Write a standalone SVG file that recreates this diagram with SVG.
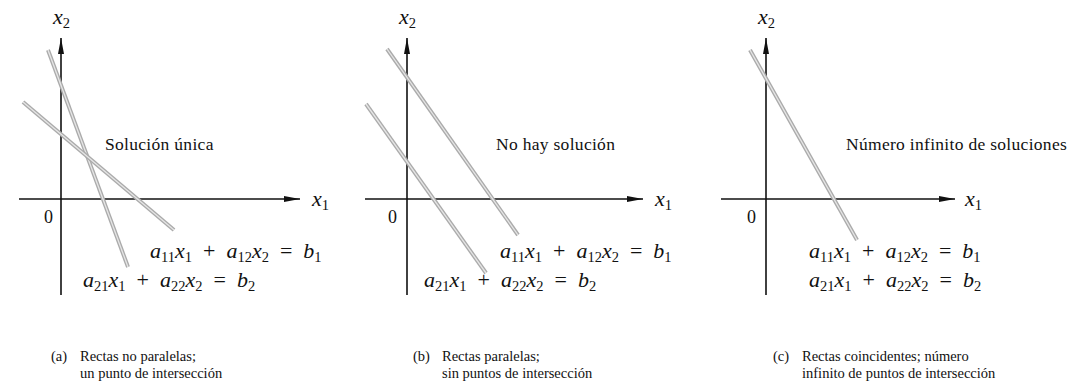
<svg xmlns="http://www.w3.org/2000/svg" width="1078" height="387" viewBox="0 0 1078 387">
<style>
.ax{stroke:#111;stroke-width:1.6;fill:none}
.ln{stroke:#ababab;stroke-width:4;fill:none;stroke-linecap:butt}
.lnc{stroke:#e6e6e6;stroke-width:1.3;fill:none}
.it{font-family:"Liberation Serif","Times New Roman",serif;font-style:italic;font-size:22px;fill:#111}
.sub{font-size:14.5px;font-style:normal}
.rm{font-family:"Liberation Serif","Times New Roman",serif;font-size:17.5px;fill:#111;letter-spacing:0.3px}
.cap{font-family:"Liberation Serif","Times New Roman",serif;font-size:14.5px;fill:#111}
.zero{font-family:"Liberation Serif","Times New Roman",serif;font-size:18px;fill:#111}
</style>
<defs>
<marker id="ah" viewBox="0 0 16 8" refX="16" refY="4" markerWidth="16" markerHeight="8" markerUnits="userSpaceOnUse" orient="auto">
<path d="M0,1 L16,4 L0,7 Z" fill="#111"/>
</marker>
</defs>

<g id="connectors">
<line class="ax" x1="61" y1="295" x2="61" y2="38" marker-end="url(#ah)"/>
<line class="ax" x1="19" y1="199" x2="300" y2="199" marker-end="url(#ah)"/>
<line class="ax" x1="407" y1="295" x2="407" y2="38" marker-end="url(#ah)"/>
<line class="ax" x1="365" y1="199" x2="643" y2="199" marker-end="url(#ah)"/>
<line class="ax" x1="766" y1="295" x2="766" y2="38" marker-end="url(#ah)"/>
<line class="ax" x1="721" y1="199" x2="955" y2="199" marker-end="url(#ah)"/>
</g>

<g id="panel-a">
<line class="ln" x1="48" y1="50" x2="128" y2="267"/><line class="lnc" x1="48" y1="50" x2="128" y2="267"/>
<line class="ln" x1="23" y1="102" x2="174" y2="230"/><line class="lnc" x1="23" y1="102" x2="174" y2="230"/>
<text class="it" x="53" y="24">x<tspan class="sub" dy="4">2</tspan></text>
<text class="it" x="312" y="206">x<tspan class="sub" dy="4">1</tspan></text>
<text class="zero" x="44" y="223">0</text>
<text class="rm" x="105" y="150">Solución única</text>
<text class="it" x="150" y="258" xml:space="preserve">a<tspan class="sub" dy="4">11</tspan><tspan dy="-4">x</tspan><tspan class="sub" dy="4">1</tspan><tspan dy="-4" font-style="normal">  +  </tspan>a<tspan class="sub" dy="4">12</tspan><tspan dy="-4">x</tspan><tspan class="sub" dy="4">2</tspan><tspan dy="-4" font-style="normal">  =  </tspan>b<tspan class="sub" dy="4">1</tspan></text>
<text class="it" x="83" y="287" xml:space="preserve">a<tspan class="sub" dy="4">21</tspan><tspan dy="-4">x</tspan><tspan class="sub" dy="4">1</tspan><tspan dy="-4" font-style="normal">  +  </tspan>a<tspan class="sub" dy="4">22</tspan><tspan dy="-4">x</tspan><tspan class="sub" dy="4">2</tspan><tspan dy="-4" font-style="normal">  =  </tspan>b<tspan class="sub" dy="4">2</tspan></text>
<text class="cap" x="51" y="361">(a)</text>
<text class="cap" x="80" y="361">Rectas no paralelas;</text>
<text class="cap" x="80" y="378">un punto de intersección</text>
</g>

<g id="panel-b">
<line class="ln" x1="387" y1="49" x2="518" y2="235"/><line class="lnc" x1="387" y1="49" x2="518" y2="235"/>
<line class="ln" x1="366" y1="104" x2="486" y2="273"/><line class="lnc" x1="366" y1="104" x2="486" y2="273"/>
<text class="it" x="399" y="24">x<tspan class="sub" dy="4">2</tspan></text>
<text class="it" x="655" y="206">x<tspan class="sub" dy="4">1</tspan></text>
<text class="zero" x="388" y="223">0</text>
<text class="rm" x="496" y="150">No hay solución</text>
<text class="it" x="500" y="258" xml:space="preserve">a<tspan class="sub" dy="4">11</tspan><tspan dy="-4">x</tspan><tspan class="sub" dy="4">1</tspan><tspan dy="-4" font-style="normal">  +  </tspan>a<tspan class="sub" dy="4">12</tspan><tspan dy="-4">x</tspan><tspan class="sub" dy="4">2</tspan><tspan dy="-4" font-style="normal">  =  </tspan>b<tspan class="sub" dy="4">1</tspan></text>
<text class="it" x="424" y="287" xml:space="preserve">a<tspan class="sub" dy="4">21</tspan><tspan dy="-4">x</tspan><tspan class="sub" dy="4">1</tspan><tspan dy="-4" font-style="normal">  +  </tspan>a<tspan class="sub" dy="4">22</tspan><tspan dy="-4">x</tspan><tspan class="sub" dy="4">2</tspan><tspan dy="-4" font-style="normal">  =  </tspan>b<tspan class="sub" dy="4">2</tspan></text>
<text class="cap" x="413" y="361">(b)</text>
<text class="cap" x="442" y="361">Rectas paralelas;</text>
<text class="cap" x="442" y="378">sin puntos de intersección</text>
</g>

<g id="panel-c">
<line class="ln" x1="750" y1="50" x2="857" y2="240"/><line class="lnc" x1="750" y1="50" x2="857" y2="240"/>
<text class="it" x="758" y="24">x<tspan class="sub" dy="4">2</tspan></text>
<text class="it" x="965" y="206">x<tspan class="sub" dy="4">1</tspan></text>
<text class="zero" x="747" y="223">0</text>
<text class="rm" x="846" y="150">Número infinito de soluciones</text>
<text class="it" x="809" y="258" xml:space="preserve">a<tspan class="sub" dy="4">11</tspan><tspan dy="-4">x</tspan><tspan class="sub" dy="4">1</tspan><tspan dy="-4" font-style="normal">  +  </tspan>a<tspan class="sub" dy="4">12</tspan><tspan dy="-4">x</tspan><tspan class="sub" dy="4">2</tspan><tspan dy="-4" font-style="normal">  =  </tspan>b<tspan class="sub" dy="4">1</tspan></text>
<text class="it" x="809" y="287" xml:space="preserve">a<tspan class="sub" dy="4">21</tspan><tspan dy="-4">x</tspan><tspan class="sub" dy="4">1</tspan><tspan dy="-4" font-style="normal">  +  </tspan>a<tspan class="sub" dy="4">22</tspan><tspan dy="-4">x</tspan><tspan class="sub" dy="4">2</tspan><tspan dy="-4" font-style="normal">  =  </tspan>b<tspan class="sub" dy="4">2</tspan></text>
<text class="cap" x="773" y="361">(c)</text>
<text class="cap" x="802" y="361">Rectas coincidentes; número</text>
<text class="cap" x="802" y="378">infinito de puntos de intersección</text>
</g>
</svg>
